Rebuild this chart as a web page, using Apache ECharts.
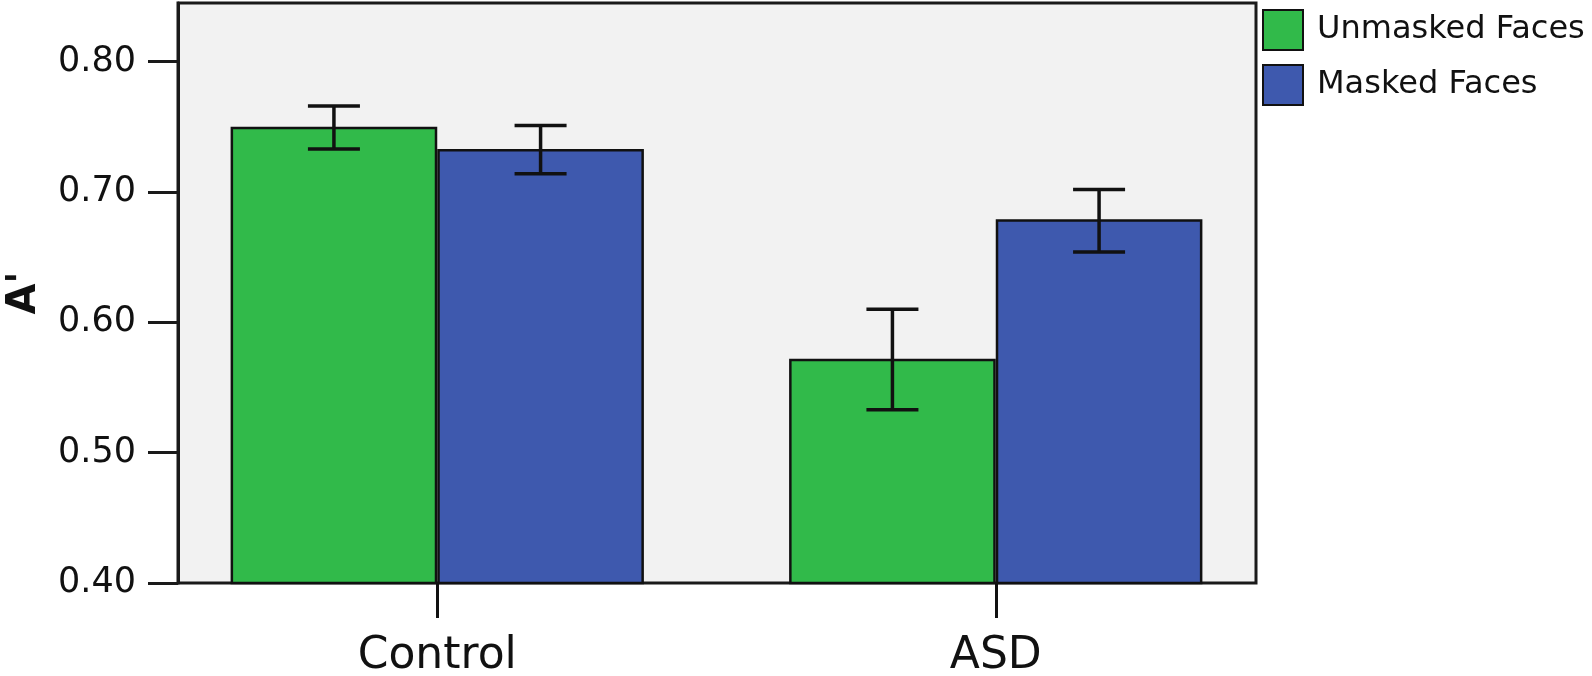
<!DOCTYPE html>
<html>
<head>
<meta charset="utf-8">
<script src="https://cdn.jsdelivr.net/npm/echarts@6/dist/echarts.min.js"></script>
<style>
html,body{margin:0;padding:0;background:#fff;}
#chart{width:1592px;height:676px;}
</style>
</head>
<body>
<div id="chart"></div>
<script>
// ---- data ----
var categories = ['Control', 'ASD'];
var seriesNames = ['Unmasked Faces', 'Masked Faces'];
var unmaskedMean = [0.750, 0.572];
var unmaskedLow  = [0.733, 0.533];
var unmaskedHigh = [0.766, 0.610];
var maskedMean   = [0.733, 0.679];
var maskedLow    = [0.714, 0.654];
var maskedHigh   = [0.751, 0.702];
var yTicks = [0.40, 0.50, 0.60, 0.70, 0.80];
var yMin = 0.40, yMax = 0.845;

var colors = ['#31BA4A', '#3E59AE'];
var FONT = 'DejaVu Sans';
var CAT_GAP = 0.26;

var chart = echarts.init(document.getElementById('chart'), null, {renderer: 'canvas'});

function errSeries(idx, low, high) {
  var data = categories.map(function (c, i) { return [i, low[i], high[i]]; });
  return {
    type: 'custom',
    name: seriesNames[idx] + ' err',
    xAxisIndex: 1, yAxisIndex: 1,
    z: 5,
    silent: true,
    data: data,
    encode: {x: 0, y: [1, 2]},
    renderItem: function (params, api) {
      var ci = api.value(0);
      var lo = api.coord([ci, api.value(1)]);
      var hi = api.coord([ci, api.value(2)]);
      var band = api.size([1, 0])[0];
      var barW = band * (1 - CAT_GAP) / 2;
      var x = lo[0] + (idx === 0 ? -barW / 2 : barW / 2);
      var cap = 26;
      var st = {stroke: '#111', lineWidth: 3.5};
      return {
        type: 'group',
        children: [
          {type: 'line', shape: {x1: x, y1: lo[1], x2: x, y2: hi[1]}, style: st},
          {type: 'line', shape: {x1: x - cap, y1: lo[1], x2: x + cap, y2: lo[1]}, style: st},
          {type: 'line', shape: {x1: x - cap, y1: hi[1], x2: x + cap, y2: hi[1]}, style: st}
        ]
      };
    }
  };
}

var option = {
  animation: false,
  backgroundColor: '#ffffff',
  textStyle: {fontFamily: FONT},
  grid: [
    {left: 178, right: 336, top: 3, bottom: 93, show: true, containLabel: false, outerBoundsMode: 'none',
     backgroundColor: '#f2f2f2', borderColor: '#1a1a1a', borderWidth: 3},
    {left: 158, right: 317, top: 3, bottom: 93, show: false, containLabel: false, outerBoundsMode: 'none'}
  ],
  legend: {
    orient: 'vertical',
    left: 1262, top: 9, padding: 0,
    itemWidth: 40, itemHeight: 40, itemGap: 13,
    icon: 'rect',
    data: seriesNames,
    textStyle: {fontSize: 32, color: '#111', fontFamily: FONT, padding: [0, 0, 0, 9]}
  },
  xAxis: [
    {type: 'category', gridIndex: 0, data: categories, show: false},
    {type: 'category', gridIndex: 1, data: categories, boundaryGap: true,
     axisLine: {show: false},
     axisTick: {show: true, alignWithLabel: true, length: 35, lineStyle: {color: '#111', width: 3}},
     axisLabel: {fontSize: 44, color: '#111', margin: 52, fontFamily: FONT}}
  ],
  yAxis: [
    {type: 'value', gridIndex: 0, min: yMin, max: yMax, interval: 0.1,
     name: "A'", nameLocation: 'middle', nameGap: 133,
     nameTextStyle: {fontSize: 40, fontWeight: 'bold', color: '#111', fontFamily: FONT},
     splitLine: {show: false},
     axisLine: {show: true, lineStyle: {color: '#1a1a1a', width: 3}},
     axisTick: {show: true, length: 30, customValues: yTicks, lineStyle: {color: '#1a1a1a', width: 3}},
     axisLabel: {fontSize: 35, color: '#111', margin: 42, customValues: yTicks,
       fontFamily: FONT,
       formatter: function (v) { return v.toFixed(2); }}},
    {type: 'value', gridIndex: 1, min: yMin, max: yMax, interval: 0.1, show: false,
     splitLine: {show: false}}
  ],
  series: [
    {type: 'bar', name: seriesNames[0], xAxisIndex: 1, yAxisIndex: 1,
     data: unmaskedMean, barGap: '0%', barCategoryGap: (CAT_GAP * 100) + '%',
     itemStyle: {color: colors[0], borderColor: '#111', borderWidth: 2.5}},
    {type: 'bar', name: seriesNames[1], xAxisIndex: 1, yAxisIndex: 1,
     data: maskedMean, barGap: '0%', barCategoryGap: (CAT_GAP * 100) + '%',
     itemStyle: {color: colors[1], borderColor: '#111', borderWidth: 2.5}},
    errSeries(0, unmaskedLow, unmaskedHigh),
    errSeries(1, maskedLow, maskedHigh)
  ]
};
chart.setOption(option);
</script>
</body>
</html>
